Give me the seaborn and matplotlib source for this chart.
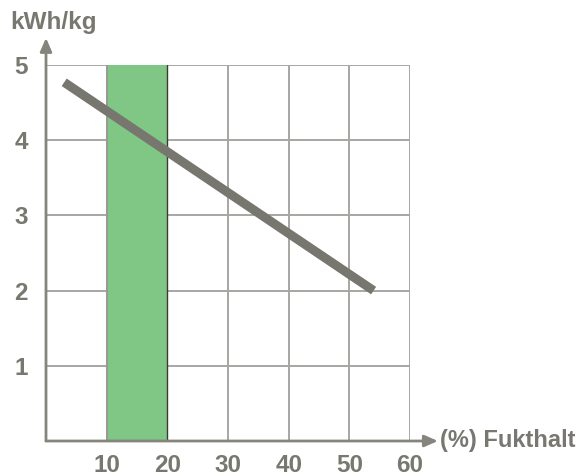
import matplotlib
matplotlib.use("Agg")
import matplotlib.pyplot as plt
import seaborn as sns
import pandas as pd

# data
moisture = [3, 54]            # (%) Fukthalt
energy = [4.77, 2.0]          # kWh/kg
band = [10, 20]               # optimal moisture range
x_ticks = [10, 20, 30, 40, 50, 60]
y_ticks = [1, 2, 3, 4, 5]

sns.set_style("white")
plt.rcParams['font.family'] = ['Liberation Sans', 'DejaVu Sans']

GRAY = "#787870"
GRID = "#a6a6a2"

fig = plt.figure(figsize=(5.79, 4.76), dpi=100)
ax = fig.add_axes([46/579, 35/476, 364/579, 376/476])
ax.set_xlim(0, 60)
ax.set_ylim(0, 5)

# grid
for xt in x_ticks:
    ax.axvline(xt, color=GRID, lw=1.4, zorder=1)
for yt in y_ticks:
    ax.axhline(yt, color=GRID, lw=1.4, zorder=1)

ax.axvspan(band[0], band[1], ymin=0, ymax=1, color="#80c684", zorder=2, lw=0)
ax.axvline(band[1], color="#3a3a36", lw=1.0, zorder=2.5)
ax.axvline(band[0], color="#9a9a94", lw=1.4, zorder=2.5)

df = pd.DataFrame({"x": moisture, "y": energy})
sns.lineplot(data=df, x="x", y="y", ax=ax, color="#77776f", lw=6.5,
             solid_capstyle="butt", zorder=3)

for s in ax.spines.values():
    s.set_visible(False)

# arrow axes
ax.annotate("", xy=(0, 5.36), xytext=(0, 0), xycoords="data",
            arrowprops=dict(arrowstyle="-|>,head_length=0.8,head_width=0.35",
                            color="#85857d", lw=2, shrinkA=0, shrinkB=0),
            annotation_clip=False, zorder=5)
ax.annotate("", xy=(64.6, 0), xytext=(0, 0), xycoords="data",
            arrowprops=dict(arrowstyle="-|>,head_length=0.8,head_width=0.35",
                            color="#85857d", lw=2, shrinkA=0, shrinkB=0),
            annotation_clip=False, zorder=5)

ax.set_xticks(x_ticks)
ax.set_yticks(y_ticks)
ax.set_xticklabels([str(t) for t in x_ticks])
ax.set_yticklabels([str(t) for t in y_ticks])
ax.tick_params(axis="both", direction="out", length=5, width=1.4, color="#85857d",
               labelsize=17.5, labelcolor=GRAY, pad=8)
ax.tick_params(axis="x", pad=4)
for lab in ax.get_xticklabels() + ax.get_yticklabels():
    lab.set_fontweight("bold")
ax.set_xlabel("")
ax.set_ylabel("")

fig.text(10/579, 1 - 22/476, "kWh/kg", fontsize=17.5, fontweight="bold",
         color=GRAY, ha="left", va="center")
fig.text(440/579, 1 - 441/476, "(%) Fukthalt", fontsize=17, fontweight="bold",
         color=GRAY, ha="left", va="center")

fig.savefig("out.png", dpi=100)
